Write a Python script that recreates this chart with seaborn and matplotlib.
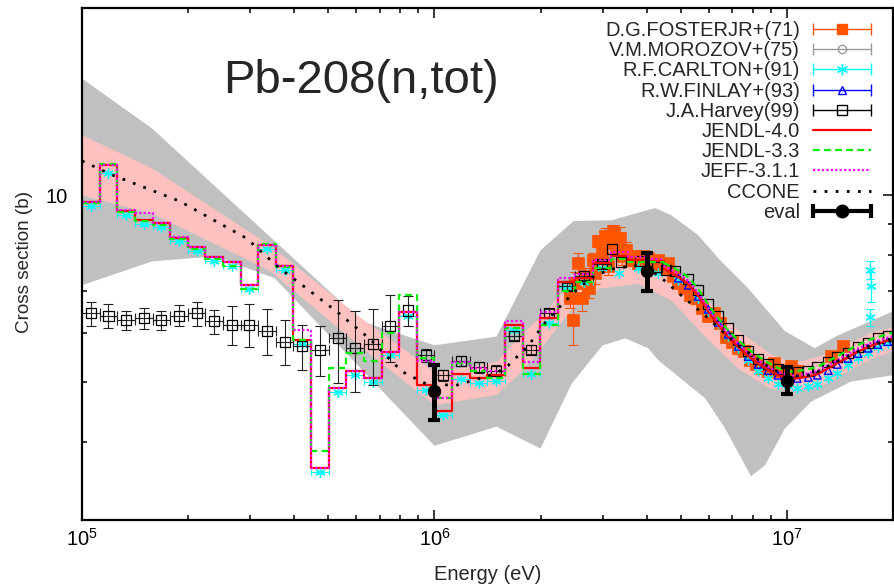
import numpy as np
import matplotlib
matplotlib.use("Agg")
import matplotlib.pyplot as plt
import seaborn as sns
from matplotlib.lines import Line2D
from matplotlib.container import ErrorbarContainer
from matplotlib.legend_handler import HandlerErrorbar
from matplotlib.ticker import LogLocator, NullFormatter, LogFormatterSciNotation, FixedLocator, FixedFormatter

# ---------------------------------------------------------------- data
# energy group boundaries (eV) of the group-averaged evaluations / binned data
GROUP_EDGES = [1.000e5, 1.122e5, 1.259e5, 1.413e5, 1.585e5, 1.778e5, 1.995e5, 2.239e5, 2.512e5, 2.818e5,
               3.162e5, 3.548e5, 3.981e5, 4.467e5, 5.012e5, 5.623e5, 6.310e5, 7.079e5, 7.943e5, 8.913e5,
               1.000e6, 1.122e6, 1.259e6, 1.413e6, 1.585e6, 1.778e6, 1.995e6, 2.239e6, 2.512e6, 2.818e6,
               3.162e6, 3.548e6, 3.981e6, 4.467e6]
GROUP_CENTERS = [1.059e5, 1.189e5, 1.334e5, 1.496e5, 1.679e5, 1.884e5, 2.113e5, 2.371e5, 2.661e5, 2.985e5,
                 3.350e5, 3.758e5, 4.217e5, 4.732e5, 5.309e5, 5.957e5, 6.683e5, 7.499e5, 8.414e5, 9.441e5,
                 1.059e6, 1.189e6, 1.334e6, 1.496e6, 1.679e6, 1.884e6, 2.113e6, 2.371e6, 2.661e6, 2.985e6]

# evaluated libraries: group values (b) below 4.47 MeV
JENDL40_GROUPS = [9.74, 11.18, 9.42, 9.11, 9.01, 8.52, 8.24, 7.94, 7.80, 7.16, 8.31, 7.68, 5.84, 3.64, 4.90,
                  5.22, 5.07, 5.60, 6.48, 4.94, 4.50, 5.16, 5.07, 5.14, 6.17, 5.26, 6.33, 7.24, 7.35, 7.77,
                  7.97, 7.85, 7.82]
JENDL33_GROUPS = [9.70, 11.22, 9.40, 9.08, 8.95, 8.50, 8.20, 7.90, 7.70, 7.05, 8.35, 7.65, 5.84, 3.88, 5.26,
                  5.58, 5.40, 5.99, 6.90, 5.46, 4.71, 5.36, 5.22, 5.08, 6.10, 5.16, 6.17, 7.00, 7.24, 7.63,
                  7.90, 7.80, 7.80]
JEFF311_GROUPS = [9.74, 11.18, 9.45, 9.35, 9.01, 8.55, 8.24, 7.94, 7.80, 7.16, 8.31, 7.70, 6.06, 3.64, 4.90,
                  5.22, 5.07, 5.60, 6.48, 5.40, 4.72, 5.38, 5.26, 5.22, 6.26, 5.38, 6.48, 7.35, 7.46, 7.85,
                  8.10, 7.95, 7.90]

# evaluated libraries above 4.47 MeV
HE_ENERGY = [4.467e6, 4.92e6, 5.25e6, 5.60e6, 6.10e6, 6.68e6, 7.27e6, 7.91e6, 8.66e6, 9.43e6,
             1.03e7, 1.12e7, 1.22e7, 1.33e7, 1.46e7, 1.59e7, 1.73e7, 2.0e7]
JENDL40_HE = [7.62, 7.38, 7.20, 6.88, 6.39, 5.98, 5.69, 5.46, 5.27, 5.13, 5.06, 5.09, 5.15, 5.29, 5.45, 5.60, 5.72, 5.87]
JENDL33_HE = [7.78, 7.57, 7.38, 7.06, 6.55, 6.13, 5.84, 5.61, 5.41, 5.27, 5.20, 5.23, 5.29, 5.43, 5.59, 5.74, 5.86, 6.01]
JEFF311_HE = [7.70, 7.48, 7.28, 6.96, 6.47, 6.06, 5.76, 5.53, 5.33, 5.19, 5.12, 5.15, 5.21, 5.35, 5.51, 5.66, 5.78, 5.93]

# CCONE calculation
CCONE_E = [1.0e5, 1.22e5, 1.89e5, 2.93e5, 3.63e5, 4.22e5, 5.27e5, 6.53e5, 8.09e5, 9.46e5, 1.15e6, 1.49e6,
           1.62e6, 1.85e6, 2.07e6, 2.29e6, 2.56e6, 2.86e6, 3.26e6, 3.86e6, 4.32e6, 5.01e6, 5.86e6, 7.27e6,
           9.01e6, 1.007e7, 1.17e7, 1.39e7, 1.73e7, 2.0e7]
CCONE_XS = [11.35, 10.77, 9.78, 8.52, 7.63, 7.16, 6.50, 5.88, 5.20, 4.97, 4.94, 5.16, 5.32, 5.73, 6.26, 6.65,
            7.08, 7.43, 7.63, 7.71, 7.43, 6.90, 6.40, 5.73, 5.26, 5.11, 5.13, 5.40, 5.73, 5.88]

# uncertainty bands
PINK_E = [1.0e5, 1.58e5, 3.40e5, 6.11e5, 1.0e6, 1.5e6, 1.77e6, 2.0e6, 2.45e6, 2.92e6, 3.79e6, 4.70e6,
          5.86e6, 7.27e6, 9.01e6, 1.05e7, 1.28e7, 1.73e7, 2.0e7]
PINK_UP = [12.5, 11.05, 8.31, 6.38, 5.20, 5.40, 5.99, 6.38, 7.27, 7.80, 8.03, 7.57, 6.82, 6.06, 5.54, 5.38, 5.54, 6.01, 6.15]
PINK_LO = [10.0, 9.35, 7.57, 5.73, 4.60, 4.78, 5.22, 5.67, 6.57, 7.08, 7.21, 6.77, 5.92, 5.26, 4.88, 4.85, 4.97, 5.46, 5.62]

GREY_UP_E = [1.0e5, 1.58e5, 6.24e5, 1.0e6, 1.5e6, 2.0e6, 2.48e6, 3.18e6, 4.23e6, 4.70e6, 5.60e6, 6.51e6,
             7.76e6, 9.87e6, 1.20e7, 1.39e7, 2.0e7]
GREY_UP = [15.4, 12.8, 6.26, 5.73, 5.92, 8.15, 9.08, 9.11, 9.53, 9.28, 8.62, 7.82, 7.08, 6.04, 5.67, 5.94, 6.50]
GREY_LO_E = [1.0e5, 1.58e5, 2.38e5, 3.52e5, 1.0e6, 1.5e6, 2.0e6, 2.45e6, 3.0e6, 3.48e6, 4.04e6, 4.32e6,
             5.86e6, 6.68e6, 7.91e6, 8.66e6, 9.87e6, 1.17e7, 1.52e7, 2.0e7]
GREY_LO = [7.16, 7.82, 7.97, 7.35, 3.95, 4.24, 3.91, 4.97, 5.73, 5.88, 5.67, 5.42, 4.71, 4.21, 3.53, 3.67,
           4.21, 4.65, 5.01, 5.13]

# D.G.Foster Jr et al. (1971)
FOSTER_E = [2.43e6, 2.47e6, 2.51e6, 2.56e6, 2.63e6, 2.68e6, 2.74e6, 2.81e6, 2.86e6, 2.92e6, 2.98e6, 3.04e6,
            3.10e6, 3.16e6, 3.22e6, 3.28e6, 3.35e6, 3.41e6, 3.50e6, 3.60e6, 3.69e6, 3.79e6, 3.91e6, 4.04e6,
            4.18e6, 4.32e6, 4.46e6, 4.61e6, 4.76e6, 4.92e6, 5.11e6, 5.32e6, 5.53e6, 5.75e6, 5.98e6, 6.22e6,
            6.46e6, 6.72e6, 6.99e6, 7.27e6, 7.55e6, 7.86e6, 8.17e6, 8.50e6, 8.84e6, 9.19e6, 9.55e6, 9.94e6,
            1.03e7, 1.07e7, 1.33e7, 1.44e7]
FOSTER_XS = [6.82, 6.29, 7.21, 7.77, 6.82, 7.40, 7.08, 7.85, 7.48, 8.43, 8.06, 8.59, 7.68, 8.37, 8.75, 8.21,
             8.52, 7.97, 8.15, 7.85, 7.97, 7.77, 7.97, 7.91, 7.74, 7.85, 7.63, 7.77, 7.40, 7.21, 7.08, 6.90,
             6.82, 6.57, 6.38, 6.45, 6.22, 5.92, 5.81, 5.67, 5.62, 5.42, 5.34, 5.26, 5.22, 5.36, 5.22, 5.16,
             5.30, 5.22, 5.50, 5.71]
FOSTER_ERR = [0.25, 0.55, 0.32, 0.29, 0.30, 0.22, 0.26, 0.23, 0.28, 0.19, 0.30, 0.25, 0.23, 0.31, 0.19, 0.24,
              0.38, 0.24, 0.24, 0.17, 0.17, 0.17, 0.17, 0.17, 0.17, 0.15, 0.14, 0.14, 0.14, 0.13, 0.13, 0.13,
              0.13, 0.12, 0.12, 0.12, 0.12, 0.11, 0.11, 0.11, 0.11, 0.10, 0.10, 0.10, 0.10, 0.10, 0.10, 0.10,
              0.10, 0.10, 0.10, 0.10]

# R.F.Carlton et al. (1991)
CARLTON_GROUP_XS = [9.62, 10.85, 9.30, 9.00, 8.90, 8.42, 8.12, 7.84, 7.70, 7.05, 8.18, 7.58, 5.76, 3.58, 4.82,
                    5.14, 5.00, 5.52, 6.38, 4.86, 4.42, 5.06, 4.98, 5.02, 6.06, 5.16, 6.22, 7.12, 7.25, 7.62]
CARLTON_E = [3.33e6, 3.79e6, 4.32e6, 4.92e6, 5.60e6, 5.98e6, 6.38e6, 6.81e6, 7.27e6, 7.76e6, 8.28e6, 8.84e6,
             9.43e6, 1.007e7, 1.07e7, 1.15e7, 1.22e7, 1.31e7, 1.39e7, 1.49e7, 1.59e7, 1.70e7, 1.81e7, 1.93e7]
CARLTON_XS = [7.48, 7.63, 7.48, 7.29, 6.82, 6.50, 6.22, 5.94, 5.67, 5.42, 5.22, 5.07, 4.97, 4.92, 4.90, 4.92,
              4.96, 5.07, 5.18, 5.32, 5.46, 5.58, 5.69, 5.77]
CARLTON_OUT_E = [1.72e7, 1.73e7, 1.72e7]
CARLTON_OUT_XS = [7.57, 7.13, 6.36]
CARLTON_OUT_ERR = [0.25, 0.40, 0.20]

# R.W.Finlay et al. (1993)
FINLAY_E = [4.92e6, 5.25e6, 5.60e6, 5.98e6, 6.38e6, 6.81e6, 7.27e6, 7.76e6, 8.28e6, 8.84e6, 9.43e6, 1.007e7,
            1.07e7, 1.15e7, 1.22e7, 1.31e7, 1.39e7, 1.49e7, 1.59e7, 1.70e7, 1.81e7, 1.93e7]
FINLAY_XS = [7.35, 7.16, 6.87, 6.55, 6.24, 5.97, 5.71, 5.50, 5.34, 5.22, 5.13, 5.07, 5.07, 5.09, 5.13, 5.22,
             5.34, 5.46, 5.56, 5.67, 5.75, 5.81]

# J.A.Harvey (1999)
HARVEY_GROUP_XS = [6.45, 6.40, 6.29, 6.33, 6.29, 6.40, 6.45, 6.26, 6.19, 6.19, 6.04, 5.81, 5.71, 5.64, 5.88,
                   5.67, 5.75, 6.15, 6.52, 5.52, 5.13, 5.40, 5.28, 5.22, 5.94, 5.64, 6.45, 7.13, 7.40, 7.74]
HARVEY_GROUP_ERR = [0.29, 0.29, 0.22, 0.25, 0.22, 0.25, 0.29, 0.28, 0.45, 0.50, 0.52, 0.48, 0.48, 0.52, 0.90,
                    0.85, 0.80, 0.76, 0.37, 0.14, 0.10, 0.10, 0.10, 0.10, 0.10, 0.10, 0.10, 0.10, 0.10, 0.10]
HARVEY_E = [3.20e6, 3.39e6, 3.83e6, 4.28e6, 4.54e6, 4.80e6, 5.25e6, 5.60e6, 5.98e6, 6.38e6, 6.81e6, 7.27e6,
            7.76e6, 8.28e6, 8.84e6, 9.43e6, 1.007e7, 1.07e7, 1.15e7, 1.22e7, 1.31e7, 1.39e7, 1.49e7, 1.59e7,
            1.70e7, 1.81e7, 1.93e7]
HARVEY_XS = [8.18, 7.80, 7.82, 7.65, 7.57, 7.54, 7.32, 7.03, 6.69, 6.38, 6.10, 5.84, 5.62, 5.44, 5.34, 5.24,
             5.20, 5.20, 5.22, 5.28, 5.38, 5.48, 5.58, 5.69, 5.79, 5.88, 5.94]

# evaluated values with uncertainties
EVAL_E = [1.0e6, 4.0e6, 1.0e7]
EVAL_XS = [4.83, 7.54, 5.03]
EVAL_ERR = [0.49, 0.53, 0.25]

LABELS = ["D.G.FOSTERJR+(71)", "V.M.MOROZOV+(75)", "R.F.CARLTON+(91)", "R.W.FINLAY+(93)",
          "J.A.Harvey(99)", "JENDL-4.0", "JENDL-3.3", "JEFF-3.1.1", "CCONE", "eval"]

# ---------------------------------------------------------------- style
sns.set_style("ticks")
plt.rcParams["font.family"] = ["Liberation Sans", "DejaVu Sans"]
plt.rcParams["mathtext.fontset"] = "custom"
plt.rcParams["mathtext.rm"] = "Liberation Sans"
plt.rcParams["mathtext.default"] = "regular"

C_FOSTER = "#ff5500"
C_MOROZOV = "#9a9a9a"
C_CARLTON = "#00ffff"
C_FINLAY = "#0000ff"
C_J40 = "#ff0000"
C_J33 = "#00ee00"
C_JEFF = "#ff00ff"

fig = plt.figure(figsize=(8.95, 5.86), dpi=100)
ax = fig.add_axes([82 / 895, 66 / 586, 811 / 895, 512 / 586])
ax.set_xscale("log")
ax.set_yscale("log")

edges = np.array(GROUP_EDGES)
centers = np.array(GROUP_CENTERS)
ng = len(centers)
group_xerr = [centers - edges[:ng], edges[1:ng + 1] - centers]

# uncertainty bands
ax.fill(np.r_[GREY_UP_E, GREY_LO_E[::-1]], np.r_[GREY_UP, GREY_LO[::-1]],
        color="#c0c0c0", lw=0, zorder=1)
ax.fill_between(PINK_E, PINK_LO, PINK_UP, color="#ffc0c0", lw=0, zorder=2)

# Foster
ax.errorbar(FOSTER_E, FOSTER_XS, yerr=FOSTER_ERR, fmt="none", ecolor=C_FOSTER,
            elinewidth=0.8, capsize=3.5, capthick=0.8, zorder=3)
sns.scatterplot(x=FOSTER_E, y=FOSTER_XS, marker="s", s=66, color=C_FOSTER, edgecolor=C_FOSTER,
                linewidth=0.5, zorder=3, ax=ax, legend=False)

# Carlton
ax.errorbar(centers, CARLTON_GROUP_XS, xerr=group_xerr, fmt="none", ecolor=C_CARLTON,
            elinewidth=0.8, capsize=2, capthick=0.8, zorder=4)
ax.errorbar(CARLTON_OUT_E, CARLTON_OUT_XS, yerr=CARLTON_OUT_ERR, fmt="none", ecolor=C_CARLTON,
            elinewidth=0.8, capsize=3, capthick=0.8, zorder=4)
sns.scatterplot(x=np.r_[centers, CARLTON_E, CARLTON_OUT_E],
                y=np.r_[CARLTON_GROUP_XS, CARLTON_XS, CARLTON_OUT_XS],
                marker=(6, 2, 0), s=45, color=C_CARLTON, linewidth=1.0, zorder=4, ax=ax, legend=False)

# Finlay
sns.scatterplot(x=FINLAY_E, y=FINLAY_XS, marker="^", s=30, facecolor="none", edgecolor=C_FINLAY,
                color=C_FINLAY, linewidth=1.0, zorder=5, ax=ax, legend=False)

# Harvey
ax.errorbar(centers, HARVEY_GROUP_XS, yerr=HARVEY_GROUP_ERR, xerr=group_xerr, fmt="none",
            ecolor="#222222", elinewidth=0.8, capsize=3.5, capthick=0.8, zorder=6)
sns.scatterplot(x=np.r_[centers, HARVEY_E], y=np.r_[HARVEY_GROUP_XS, HARVEY_XS], marker="s", s=52,
                facecolor="none", edgecolor="black", color="black", linewidth=0.9, zorder=6,
                ax=ax, legend=False)

# evaluated libraries
step_x = edges
for groups, he, col, ls, lw, z in [
        (JENDL40_GROUPS, JENDL40_HE, C_J40, "-", 1.6, 7),
        (JENDL33_GROUPS, JENDL33_HE, C_J33, (0, (3, 2)), 1.6, 8),
        (JEFF311_GROUPS, JEFF311_HE, C_JEFF, (0, (1, 1)), 1.6, 9)]:
    sns.lineplot(x=step_x, y=list(groups) + [groups[-1]], drawstyle="steps-post", color=col,
                 linestyle=ls, linewidth=lw, sort=False, estimator=None, zorder=z, ax=ax, legend=False)
    sns.lineplot(x=HE_ENERGY, y=he, color=col, linestyle=ls, linewidth=lw, sort=False,
                 estimator=None, zorder=z, ax=ax, legend=False)

# CCONE
sns.lineplot(x=CCONE_E, y=CCONE_XS, color="black", linestyle=(0, (1, 3)), linewidth=2.0,
             sort=False, estimator=None, zorder=10, ax=ax, legend=False)

# eval
ax.errorbar(EVAL_E, EVAL_XS, yerr=EVAL_ERR, fmt="none", ecolor="black", elinewidth=3.6,
            capsize=4.5, capthick=3.0, zorder=11)
sns.scatterplot(x=EVAL_E, y=EVAL_XS, marker="o", s=80, color="black", edgecolor="black",
                zorder=11, ax=ax, legend=False)

# ---------------------------------------------------------------- axes
ax.set_xlim(1e5, 2e7)
ax.set_ylim(3, 20)
ax.xaxis.set_major_locator(LogLocator(base=10))
ax.xaxis.set_major_formatter(LogFormatterSciNotation(base=10))
ax.xaxis.set_minor_locator(LogLocator(base=10, subs=np.arange(2, 10)))
ax.xaxis.set_minor_formatter(NullFormatter())
ax.yaxis.set_major_locator(FixedLocator([10]))
ax.yaxis.set_major_formatter(FixedFormatter(["10"]))
ax.yaxis.set_minor_locator(LogLocator(base=10, subs=np.arange(2, 10)))
ax.yaxis.set_minor_formatter(NullFormatter())
ax.tick_params(which="both", direction="in", top=True, right=True, width=1.1, colors="black",
               labelsize=14.5)
ax.tick_params(which="major", length=7)
ax.tick_params(which="minor", length=3.6)
ax.tick_params(axis="x", which="major", pad=6)
ax.tick_params(axis="y", which="major", pad=10)
for sp in ax.spines.values():
    sp.set_linewidth(1.6)
    sp.set_color("black")
    sp.set_zorder(20)
ax.set_xlabel("Energy (eV)", fontsize=14.5)
ax.set_ylabel("Cross section (b)", fontsize=13.6)
ax.xaxis.set_label_coords(0.5, -0.088)
ax.yaxis.set_label_coords(-0.061, 0.504)

fig.text(361 / 895, 1 - 93 / 586, "Pb-208(n,tot)", ha="center", va="baseline", fontsize=34)

# ---------------------------------------------------------------- legend
def eb_handle(marker, color, mfc, ms, lw=1.0, capsize=4, capthick=1.0):
    return ax.errorbar([np.nan], [np.nan], xerr=[1.0], fmt="", marker=marker, linestyle="none",
                       color=color, mfc=mfc, mec=color, ms=ms, elinewidth=lw, capsize=capsize,
                       capthick=capthick)

handles = [
    eb_handle("s", C_FOSTER, C_FOSTER, 7),
    eb_handle("o", C_MOROZOV, "none", 6),
    eb_handle((6, 2, 0), C_CARLTON, C_CARLTON, 8),
    eb_handle("^", C_FINLAY, "none", 6),
    eb_handle("s", "black", "none", 7),
    Line2D([], [], color=C_J40, lw=1.6),
    Line2D([], [], color=C_J33, lw=1.6, linestyle=(0, (3, 2))),
    Line2D([], [], color=C_JEFF, lw=1.6, linestyle=(0, (1, 1))),
    Line2D([], [], color="black", lw=2.0, linestyle=(0, (1, 3))),
    eb_handle("o", "black", "black", 9, lw=3.0, capsize=5, capthick=3.0),
]
hl = 2.88
leg = ax.legend(handles, LABELS, loc="upper right", bbox_to_anchor=(871 / 895, 1 - 21 / 586),
                bbox_transform=fig.transFigure, frameon=False, markerfirst=False, fontsize=14.5,
                handlelength=hl, handletextpad=0.65, labelspacing=0.06, borderpad=0,
                borderaxespad=0, numpoints=1,
                handler_map={ErrorbarContainer: HandlerErrorbar(xerr_size=hl / 2)})
leg.set_zorder(30)

fig.savefig("out.png", dpi=100)
